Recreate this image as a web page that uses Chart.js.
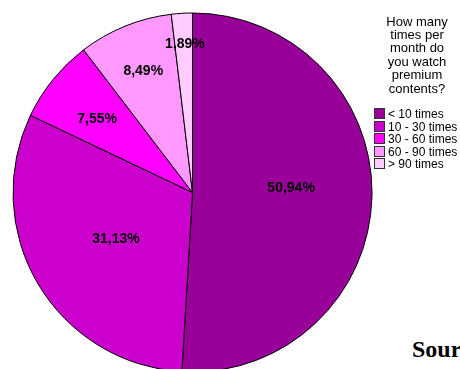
<!DOCTYPE html>
<html>
<head>
<meta charset="utf-8">
<script src="https://cdn.jsdelivr.net/npm/chart.js@4"></script>
<style>
html, body { margin: 0; padding: 0; width: 460px; height: 369px; overflow: hidden; background: #fff; }
#wrap { position: absolute; left: 0; top: 0; width: 385px; height: 385px; }
#legendTitle { position: absolute; left: 372px; top: 14.5px; width: 90px; text-align: center;
  font: 13px "Liberation Sans", Arial, sans-serif; line-height: 13.4px; color: #000; }
#legend { position: absolute; left: 374px; top: 108px; font: 12px "Liberation Sans", Arial, sans-serif; color: #000; }
#legend .item { height: 12.6px; line-height: 12.6px; white-space: nowrap; }
#legend .box { display: inline-block; width: 9px; height: 9px; border: 1px solid #333; vertical-align: -1px; margin-right: 3px; }
#source { position: absolute; left: 412px; top: 337px; font: bold 24px "Liberation Serif", "Times New Roman", serif; line-height: 24px; white-space: nowrap; }
</style>
</head>
<body>
<div id="wrap"><canvas id="pie" width="385" height="385"></canvas></div>
<div id="legendTitle">How many<br>times per<br>month do<br>you watch<br>premium<br>contents?</div>
<div id="legend"></div>
<div id="source">Source:</div>
<script>
// data
var categories = ['< 10 times', '10 - 30 times', '30 - 60 times', '60 - 90 times', '> 90 times']
var shares = [50.94, 31.13, 7.55, 8.49, 1.89]
var colours = ['#990099', '#cc00cc', '#ff00ff', '#ff99ff', '#ffccff']

function pct(v) {
  return v.toFixed(2).replace('.', ',') + '%'
}

// labels inside the slices
var sliceLabels = {
  id: 'sliceLabels',
  afterDatasetsDraw: function (chart, args, opts) {
    var ctx = chart.ctx
    var arcs = chart.getDatasetMeta(0).data
    ctx.save()
    ctx.font = opts.font
    ctx.fillStyle = '#000'
    ctx.textAlign = 'center'
    ctx.textBaseline = 'middle'
    arcs.forEach(function (arc, i) {
      var p = arc.getProps(['x', 'y', 'startAngle', 'endAngle', 'outerRadius'], true)
      var mid = (p.startAngle + p.endAngle) / 2 + opts.shift[i] * Math.PI / 180
      var r = p.outerRadius * opts.radius[i]
      ctx.fillText(pct(shares[i]), p.x + Math.cos(mid) * r, p.y + Math.sin(mid) * r)
    })
    ctx.restore()
  }
}

var ctx = document.getElementById('pie').getContext('2d')
var chart = new Chart(ctx, {
  type: 'pie',
  data: {
    labels: categories,
    datasets: [{
      data: shares,
      backgroundColor: colours,
      borderColor: '#000',
      borderWidth: 1,
      hoverOffset: 0,
      radius: 179.5
    }]
  },
  options: {
    responsive: false,
    animation: false,
    events: [],
    layout: { padding: 0 },
    plugins: {
      legend: { display: false },
      tooltip: { enabled: false },
      sliceLabels: {
        font: 'bold 14px "Liberation Sans", Arial, sans-serif',
        radius: [0.55, 0.5, 0.67, 0.73, 0.83],
        shift: [-4.5, -1, -1.5, 0, 0.5]
      }
    }
  },
  plugins: [sliceLabels]
})

// legend built from the same arrays
var legend = document.getElementById('legend')
categories.forEach(function (c, i) {
  var row = document.createElement('div')
  row.className = 'item'
  var box = document.createElement('span')
  box.className = 'box'
  box.style.background = colours[i]
  row.appendChild(box)
  row.appendChild(document.createTextNode(c))
  legend.appendChild(row)
})
</script>
</body>
</html>
